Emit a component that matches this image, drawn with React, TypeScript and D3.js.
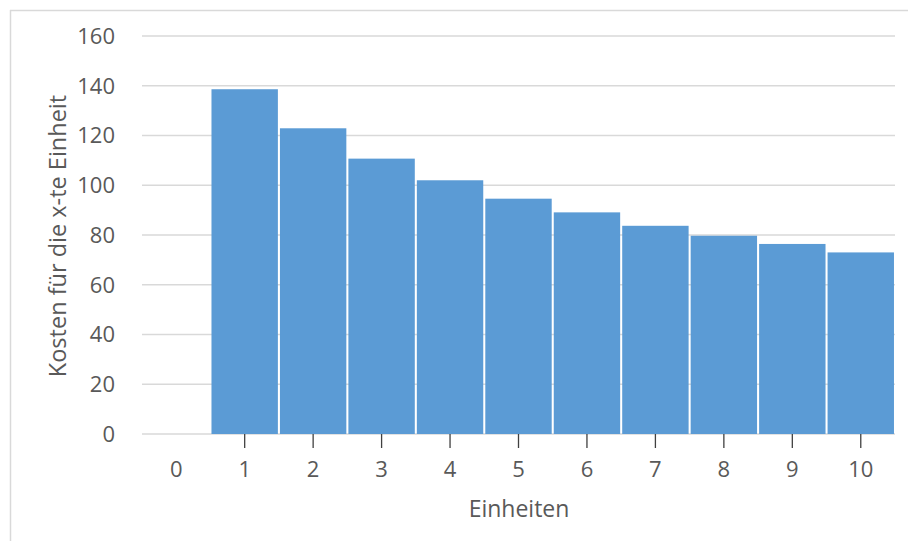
import React from "react";
import * as d3 from "d3";

const categories = ["0", "1", "2", "3", "4", "5", "6", "7", "8", "9", "10"];
const costs = [null, 138.6, 122.9, 110.7, 102.0, 94.6, 89.1, 83.7, 79.7, 76.4, 73.0];
const yTicks = [0, 20, 40, 60, 80, 100, 120, 140, 160];
const yTitle = "Kosten für die x-te Einheit";
const xTitle = "Einheiten";

const W = 908;
const H = 541;
const FONT = "'Open Sans', 'Noto Sans', sans-serif";
const TEXT = "#595959";

export default function App() {
  const x = d3.scaleBand<string>().domain(categories).range([142, 895]).paddingInner(0.03).paddingOuter(0.015);
  const y = d3.scaleLinear().domain([0, 160]).range([434, 36]);

  return (
    <svg width={W} height={H} style={{ position: "absolute", left: 0, top: 0 }} fontFamily={FONT}>
      <rect x={0} y={0} width={W} height={H} fill="#fff" />
      <line x1={10.5} y1={10} x2={10.5} y2={H} stroke="#d9d9d9" strokeWidth={1.5} />
      <line x1={10} y1={10.5} x2={W} y2={10.5} stroke="#d9d9d9" strokeWidth={1.5} />
      {yTicks.map((t) => (
        <g key={t}>
          <line x1={142} x2={895} y1={y(t)} y2={y(t)} stroke="#d9d9d9" strokeWidth={1.3} />
          <text x={115} y={y(t)} dy="0.36em" textAnchor="end" fontSize={22} fill={TEXT}>
            {t}
          </text>
        </g>
      ))}
      {categories.map((c, i) => {
        const v = costs[i];
        if (v == null) return null;
        return (
          <rect
            key={c}
            x={x(c)}
            y={y(v)}
            width={x.bandwidth()}
            height={y(0) - y(v)}
            fill="#5B9BD5"
          />
        );
      })}
      {categories.map((c, i) => {
        const cx = (x(c) as number) + x.bandwidth() / 2;
        return (
          <g key={"t" + c}>
            {costs[i] != null && (
              <line x1={cx} x2={cx} y1={434} y2={448} stroke="#404040" strokeWidth={1.3} />
            )}
            <text x={cx} y={469} dy="0.36em" textAnchor="middle" fontSize={22} fill={TEXT}>
              {c}
            </text>
          </g>
        );
      })}
      <text x={519} y={509} dy="0.36em" textAnchor="middle" fontSize={23} fill={TEXT}>
        {xTitle}
      </text>
      <text
        transform={`translate(58,236) rotate(-90)`}
        dy="0.36em"
        textAnchor="middle"
        fontSize={23.5}
        fill={TEXT}
      >
        {yTitle}
      </text>
    </svg>
  );
}
